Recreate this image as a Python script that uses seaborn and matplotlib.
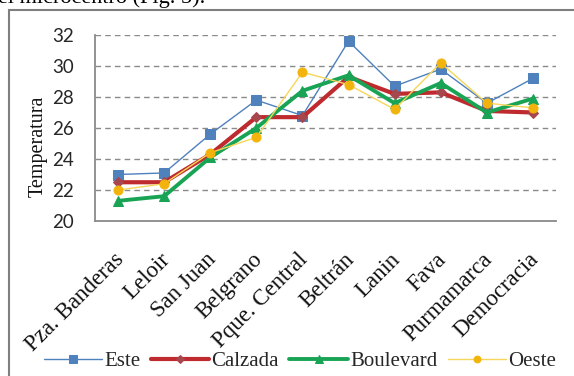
import matplotlib
matplotlib.use("Agg")
import matplotlib.pyplot as plt
import matplotlib.transforms as mtransforms
import seaborn as sns
import pandas as pd
from matplotlib.patches import Rectangle

# Stations along the transect and the mean temperature per position
stations = ["Pza. Banderas", "Leloir", "San Juan", "Belgrano", "Pque. Central",
            "Beltrán", "Lanin", "Fava", "Purmamarca", "Democracia"]
este = [23.0, 23.1, 25.6, 27.8, 26.8, 31.6, 28.7, 29.8, 27.6, 29.2]
calzada = [22.5, 22.5, 24.3, 26.7, 26.7, 29.3, 28.2, 28.3, 27.1, 27.0]
boulevard = [21.3, 21.6, 24.1, 26.0, 28.4, 29.4, 27.6, 28.9, 27.0, 27.9]
oeste = [22.0, 22.4, 24.4, 25.4, 29.6, 28.8, 27.2, 30.2, 27.6, 27.3]
yticks = [20, 22, 24, 26, 28, 30, 32]

sns.set_theme(style="white")
plt.rcParams["font.family"] = ["Liberation Serif", "DejaVu Serif"]

W, H = 574, 376
fig = plt.figure(figsize=(W / 100, H / 100), dpi=100)
ax = fig.add_axes([95 / W, 1 - 221 / H, (556 - 95) / W, (221 - 35) / H])

series = [
    ("Este", este, dict(color="#4F81BD", lw=1.0, marker="s", ms=7,
                        mfc="#4F81BD", mec="#4F81BD")),
    ("Calzada", calzada, dict(color="#BE2A2E", lw=3.0, marker="D", ms=5.5,
                              mfc="#A8464E", mec="#A8464E")),
    ("Boulevard", boulevard, dict(color="#18A454", lw=2.8, marker="^", ms=7,
                                  mfc="#18A454", mec="#18A454")),
    ("Oeste", oeste, dict(color="#F6D65A", lw=1.0, marker="o", ms=6.5,
                          mfc="#F2B40C", mec="#F2B40C")),
]

df = pd.DataFrame({"Estación": stations})
for name, vals, _ in series:
    df[name] = vals

for name, vals, kw in series:
    sns.lineplot(data=df, x="Estación", y=name, ax=ax, label=name,
                 sort=False, **kw)

ax.set_xlim(-0.5, len(stations) - 0.5)
ax.set_ylim(20, 32)
ax.set_yticks(yticks)
ax.set_yticklabels([str(t) for t in yticks], fontfamily="Lato",
                   fontsize=13.5, color="#262626")
ax.tick_params(axis="both", length=0)
ax.tick_params(axis="y", pad=15)
ax.set_xticks(range(len(stations)))
ax.set_xticklabels(stations, rotation=45, ha="right", rotation_mode="anchor",
                   fontsize=16.5, color="#111111")
ax.tick_params(axis="x", pad=20)
shift = mtransforms.ScaledTranslation(-5 / 100, 0, fig.dpi_scale_trans)
for lab in ax.get_xticklabels():
    lab.set_transform(lab.get_transform() + shift)

ax.yaxis.grid(True, linestyle=(0, (4, 3)), color="#8a8a8a", lw=1.0)
ax.xaxis.grid(False)
for s in ["top", "right"]:
    ax.spines[s].set_visible(False)
for s in ["left", "bottom"]:
    ax.spines[s].set_color("#8a8a8a")
    ax.spines[s].set_linewidth(1.3)

ax.set_xlabel("")
ax.set_ylabel("Temperatura", fontsize=14.5, color="#111111")
ax.yaxis.set_label_coords(-0.102, 0.40)

ax.get_legend().remove()
handles, labels = ax.get_legend_handles_labels()
fig.legend(handles, labels, loc="center", ncol=4, frameon=False,
           bbox_to_anchor=(300 / W, 1 - 361 / H), fontsize=15,
           handlelength=2.8, handletextpad=0.1, columnspacing=0.5,
           markerscale=0.75, borderpad=0, borderaxespad=0)

# frame of the chart area
fig.patches.append(Rectangle((9 / W, 0 - 0.02), 1.0, 1 - 10 / H + 0.02,
                             transform=fig.transFigure, fill=False,
                             edgecolor="#7f7f7f", lw=1.5))

# running text from the page above the chart
fig.text(-2 / W, 1 - 3 / H, "el microcentro (Fig. 5).", fontsize=16,
         va="baseline", ha="left", color="#000000")

fig.savefig("out.png", dpi=100)
